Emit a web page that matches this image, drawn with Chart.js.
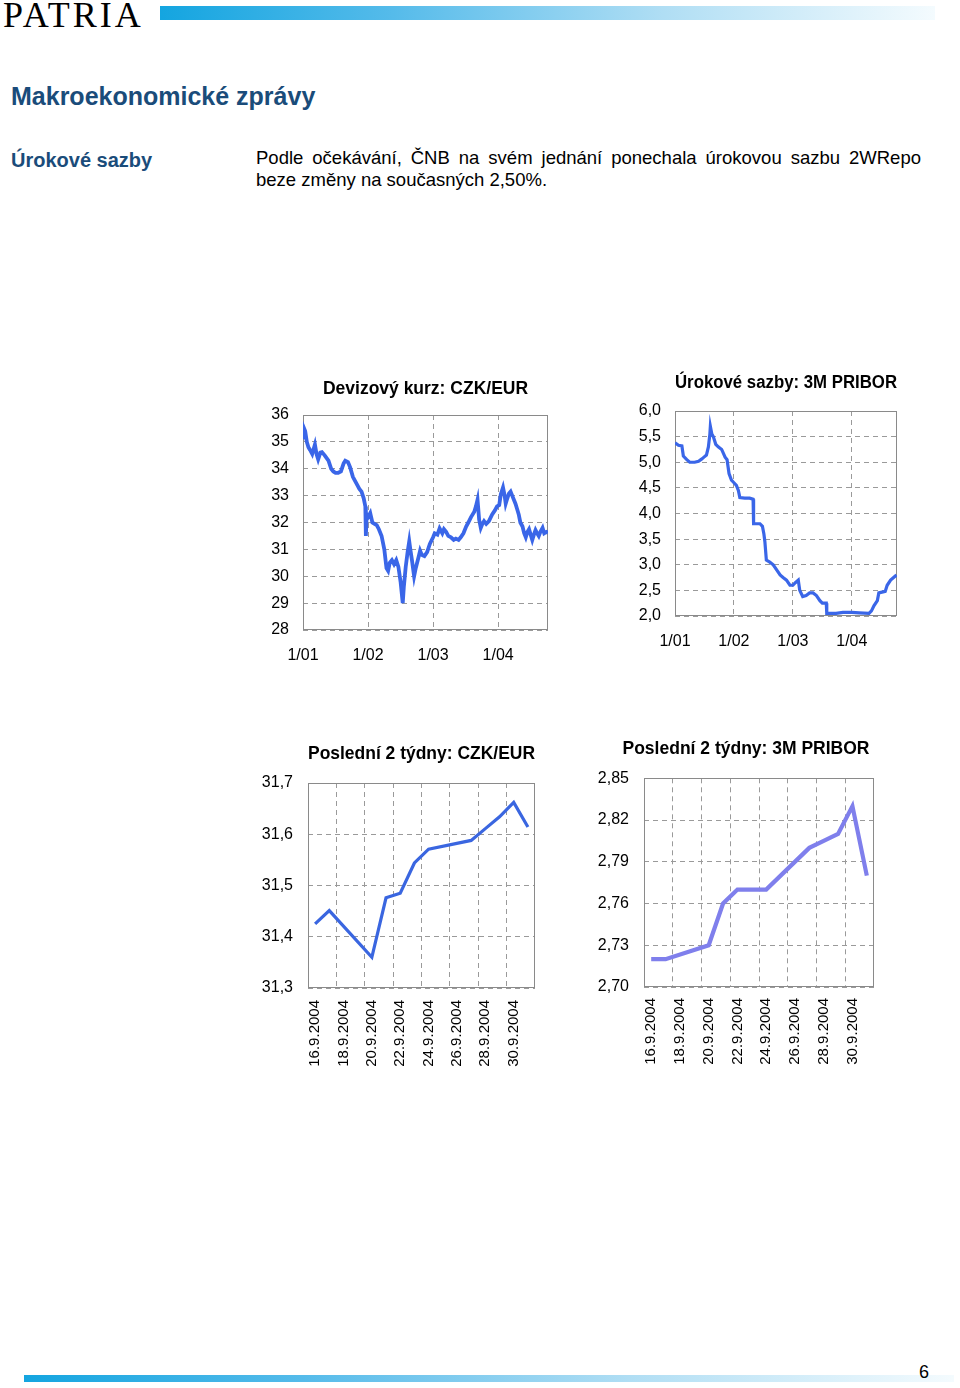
<!DOCTYPE html>
<html><head><meta charset="utf-8">
<script src="https://cdn.jsdelivr.net/npm/chart.js@4.4.1/dist/chart.umd.min.js"></script>
<style>
html,body{margin:0;padding:0;background:#fff;}
#page{position:relative;width:960px;height:1388px;overflow:hidden;font-family:'Liberation Sans',Arial,sans-serif;}
.abs{position:absolute;white-space:nowrap;}
#logo{left:3px;top:-3px;font-family:'Liberation Serif','Times New Roman',serif;font-size:36px;line-height:36px;letter-spacing:3px;color:#000;}
#topbar{left:160px;top:6px;width:775px;height:14px;background:linear-gradient(to right,#14a5e0 0%,#55bbea 30%,#b0def4 65%,#f4fbfe 100%);}
#h1{left:11px;top:81px;font-size:25px;line-height:30px;font-weight:bold;color:#1a4c7a;}
#h2{left:11px;top:148px;font-size:20px;line-height:24px;font-weight:bold;color:#1a4c7a;}
#txt{left:256px;top:147px;width:665px;font-size:18.5px;line-height:22px;text-align:justify;color:#000;white-space:normal;}
#footbar{left:24px;top:1375px;width:930px;height:7px;background:linear-gradient(to right,#14a5e0 0%,#55bbea 30%,#b0def4 65%,#f4fbfe 100%);}
#pnum{left:919px;top:1361px;font-size:18px;line-height:22px;color:#000;}
canvas{position:absolute;}
</style>
</head>
<body>
<div id="page">
  <div class="abs" id="logo">PATRIA</div>
  <div class="abs" id="topbar"></div>
  <div class="abs" id="h1">Makroekonomické zprávy</div>
  <div class="abs" id="h2">Úrokové sazby</div>
  <div class="abs" id="txt">Podle očekávání, ČNB na svém jednání ponechala úrokovou sazbu 2WRepo beze změny na současných 2,50%.</div>
  <canvas id="c1" width="310" height="300" style="left:250px;top:372px;width:310px;height:300px"></canvas>
  <canvas id="c2" width="290" height="300" style="left:620px;top:362px;width:290px;height:300px"></canvas>
  <canvas id="c3" width="300" height="340" style="left:245px;top:735px;width:300px;height:340px"></canvas>
  <canvas id="c4" width="312" height="345" style="left:590px;top:730px;width:312px;height:345px"></canvas>
  <div class="abs" id="footbar"></div>
  <div class="abs" id="pnum">6</div>
</div>
<script>
// ---- data ----
const longTickMonths = [0, 12, 24, 36];
const longTickLabels = ['1/01', '1/02', '1/03', '1/04'];

const czkMonths = [0,0.2,0.4,0.7,1.0,1.3,1.7,2.2,2.5,2.8,3.2,3.5,4.0,4.7,5.2,5.6,6.0,6.5,7.0,7.5,7.8,8.3,8.7,9.2,9.6,10.0,10.4,10.8,11.2,11.5,11.6,11.75,12.0,12.4,12.8,13.2,13.6,14.0,14.5,15.0,15.4,15.7,16.0,16.4,16.8,17.2,17.6,18.0,18.2,18.4,18.6,18.95,19.3,19.6,19.8,20.1,20.5,20.8,21.3,21.6,21.9,22.4,22.9,23.4,24.0,24.3,24.8,25.2,25.7,26.0,26.4,26.8,27.3,27.8,28.2,28.7,29.1,29.6,30.1,30.5,31.0,31.6,31.9,32.2,32.5,32.8,33.1,33.4,33.8,34.3,34.9,35.4,35.8,36.2,36.5,36.9,37.2,37.4,37.7,38.0,38.3,38.6,39.0,39.2,39.5,39.8,40.1,40.5,40.8,41.1,41.4,41.7,42.0,42.3,42.6,42.9,43.2,43.5,43.8,44.2,44.5,44.9,45.2];
const czkRates = [35.1,35.5,35.4,35.0,34.8,34.7,34.55,34.9,34.55,34.35,34.6,34.62,34.5,34.3,34.0,33.9,33.85,33.85,33.9,34.2,34.3,34.25,34.05,33.7,33.55,33.4,33.25,33.15,32.9,32.6,31.5,32.3,32.2,32.35,32.0,31.95,31.9,31.75,31.5,31.0,30.3,30.2,30.5,30.6,30.45,30.6,30.35,29.8,29.4,29.0,29.6,30.35,30.9,31.3,31.0,30.6,30.0,30.3,30.7,30.95,30.8,30.75,30.9,31.2,31.45,31.6,31.55,31.78,31.6,31.75,31.65,31.5,31.45,31.35,31.4,31.35,31.45,31.6,31.85,32.0,32.2,32.4,32.6,32.85,32.1,31.8,31.95,32.05,31.95,32.05,32.3,32.45,32.6,32.65,33.05,33.3,33.0,32.7,32.9,33.08,33.15,33.0,32.8,32.7,32.5,32.3,32.0,31.85,31.6,31.45,31.65,31.75,31.55,31.35,31.55,31.72,31.6,31.5,31.65,31.8,31.6,31.65,31.62];

const priborMonths = [0,0.7,1.4,1.7,2.4,3.0,4.0,4.8,5.4,5.9,6.4,6.8,7.1,7.2,7.5,7.8,8.3,8.8,9.5,10.2,10.6,11.0,11.5,12.0,12.5,12.9,13.2,14.2,15.2,15.9,16.0,17.3,17.8,18.1,18.3,18.6,19.3,20.0,20.7,21.4,22.0,22.7,23.4,24.0,24.5,25.1,25.4,26.0,26.7,27.4,28.1,28.8,29.5,30.0,30.8,30.9,32.8,34.2,36.0,37.5,39.5,40.0,40.5,41.2,41.5,42.8,43.2,43.9,45.1];
const priborRates = [5.38,5.33,5.32,5.12,5.05,5.0,5.0,5.02,5.06,5.1,5.14,5.3,5.55,5.7,5.55,5.5,5.35,5.3,5.25,5.1,5.05,4.78,4.65,4.6,4.55,4.45,4.31,4.3,4.3,4.28,3.8,3.8,3.75,3.6,3.45,3.09,3.05,3.0,2.9,2.8,2.75,2.7,2.6,2.6,2.65,2.7,2.5,2.38,2.4,2.45,2.45,2.4,2.3,2.25,2.25,2.05,2.05,2.07,2.07,2.06,2.05,2.1,2.2,2.3,2.45,2.48,2.6,2.7,2.8];

const dayLabels = ['16.9.2004','17.9.2004','18.9.2004','19.9.2004','20.9.2004','21.9.2004','22.9.2004','23.9.2004','24.9.2004','25.9.2004','26.9.2004','27.9.2004','28.9.2004','29.9.2004','30.9.2004','1.10.2004'];
const czk2w = [31.425,31.451,null,null,31.36,31.476,31.485,31.544,31.571,null,null,31.588,31.611,31.634,31.662,31.614];
const pribor2w = [2.72,2.72,null,null,2.73,2.76,2.77,2.77,2.77,null,null,2.80,2.805,2.81,2.83,2.78];

// ---- styling ----
const FONT = "'Liberation Sans', Arial, sans-serif";
const GRID = '#9a9a9a';
const DASH = [5, 4];
Chart.defaults.font.family = FONT;
Chart.defaults.color = '#000';

const framePlugin = {
  id: 'frame',
  beforeDatasetsDraw(chart) {
    const {ctx, chartArea: a} = chart;
    ctx.save();
    ctx.strokeStyle = '#8a8a8a';
    ctx.lineWidth = 1;
    ctx.strokeRect(Math.round(a.left) + 0.5, Math.round(a.top) + 0.5, Math.round(a.width) - 1, Math.round(a.height) - 1);
    ctx.restore();
  }
};

function comma(d) { return v => Number(v).toFixed(d).replace('.', ','); }

function titleOpts(text, pTop, pBottom, fullSize) {
  return {
    display: true, text: text, fullSize: fullSize, color: '#000',
    font: {family: FONT, size: 17.5, weight: 'bold', lineHeight: 1.2},
    padding: {top: pTop, bottom: pBottom}
  };
}

function longChart(id, title, months, values, g) {
  return new Chart(document.getElementById(id), {
    type: 'line',
    data: {datasets: [{
      data: months.map((m, i) => ({x: m, y: values[i]})),
      borderColor: '#3a66e8', borderWidth: g.lw, pointRadius: 0, tension: 0, fill: false
    }]},
    options: {
      responsive: false, animation: false, devicePixelRatio: 1,
      layout: {padding: {left: 0, right: g.padR, top: 0, bottom: 0}},
      plugins: {legend: {display: false}, tooltip: {enabled: false},
        title: titleOpts(title, g.tTop, g.tBot, false)},
      scales: {
        x: {
          type: 'linear', min: 0, max: 45.2,
          afterBuildTicks: s => { s.ticks = longTickMonths.map(v => ({value: v})); },
          afterFit: s => { s.height = g.xH; s.paddingRight = 0; },
          ticks: {font: {size: 16}, color: '#000', padding: g.xPad, maxRotation: 0,
            callback: v => longTickLabels[longTickMonths.indexOf(v)]},
          grid: {color: GRID, lineWidth: 1, drawTicks: false},
          border: {display: false, dash: DASH}
        },
        y: {
          min: g.yMin, max: g.yMax,
          afterFit: s => { s.width = g.yW; },
          ticks: {stepSize: g.step, font: {size: 16}, color: '#000', padding: g.yPad, callback: g.fmt},
          grid: {color: GRID, lineWidth: 1, drawTicks: false},
          border: {display: false, dash: DASH}
        }
      }
    },
    plugins: [framePlugin]
  });
}

function shortChart(id, title, values, color, width, g) {
  const scales = {
    x: {
      type: 'category', offset: true,
      afterFit: s => { s.height = g.xH; s.paddingLeft = 0; s.paddingRight = 0; },
      ticks: {font: {size: 15}, color: '#000', padding: g.xPad, autoSkip: false,
        minRotation: 90, maxRotation: 90,
        callback: (v, i) => (i % 2 === 0 ? dayLabels[i] : '')},
      grid: {offset: true, lineWidth: 1, drawTicks: false,
        color: c => (c.index % 2 === 0 && c.index > 0 ? GRID : 'rgba(0,0,0,0)')},
      border: {display: false, dash: DASH}
    },
    y: {
      min: g.yMin, max: g.yMax,
      afterFit: s => { s.width = g.yW; },
      ticks: {stepSize: g.step, font: {size: 16}, color: '#000', padding: g.yPad, callback: g.fmt},
      grid: {color: GRID, lineWidth: 1, drawTicks: false},
      border: {display: false, dash: DASH}
    }
  };
  if (g.rightW) {
    scales.yR = {
      type: 'linear', position: 'right', display: true,
      afterFit: s => { s.width = g.rightW; },
      ticks: {display: false},
      grid: {display: false, drawOnChartArea: false, drawTicks: false},
      border: {display: false}
    };
  }
  return new Chart(document.getElementById(id), {
    type: 'line',
    data: {labels: dayLabels, datasets: [{
      data: values, borderColor: color, borderWidth: width, pointRadius: 0,
      tension: 0, fill: false, spanGaps: true, yAxisID: 'y'
    }]},
    options: {
      responsive: false, animation: false, devicePixelRatio: 1,
      layout: {padding: {left: 0, right: g.padR, top: 0, bottom: 0}},
      plugins: {legend: {display: false}, tooltip: {enabled: false},
        title: titleOpts(title, g.tTop, g.tBot, g.full)},
      scales: scales
    },
    plugins: [framePlugin]
  });
}

longChart('c1', 'Devizový kurz: CZK/EUR', czkMonths, czkRates,
  {lw: 3.8, padR: 12, tTop: 7, tBot: 15, xH: 42, xPad: 16, yW: 53, yPad: 14, yMin: 28, yMax: 36, step: 1, fmt: v => String(v)});
longChart('c2', 'Úrokové sazby: 3M PRIBOR', priborMonths, priborRates,
  {lw: 3.2, padR: 13, tTop: 10.5, tBot: 17.5, xH: 46, xPad: 16, yW: 55, yPad: 14, yMin: 2, yMax: 6, step: 0.5, fmt: comma(1)});
shortChart('c3', 'Poslední 2 týdny: CZK/EUR', czk2w, '#3a66e0', 3.2,
  {padR: 10, full: false, tTop: 8.5, tBot: 18.5, xH: 87, xPad: 12, yW: 63, yPad: 15, yMin: 31.3, yMax: 31.7, step: 0.1, fmt: comma(1)});
shortChart('c4', 'Poslední 2 týdny: 3M PRIBOR', pribor2w, '#7f7fec', 4.2,
  {padR: 0, rightW: 28, full: true, tTop: 8.5, tBot: 18.8, xH: 88, xPad: 11, yW: 54, yPad: 15, yMin: 2.70, yMax: 2.85, step: 0.03, fmt: comma(2)});
</script>
</body></html>
